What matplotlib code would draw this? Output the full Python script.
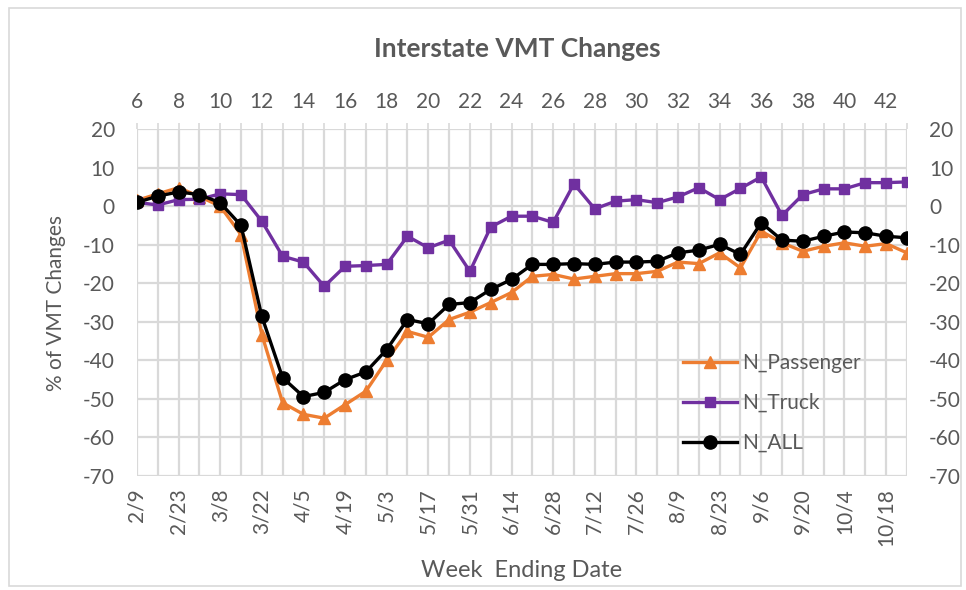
import matplotlib.pyplot as plt
from matplotlib.patches import Rectangle

weeks = list(range(6, 44))
dates = ["2/9", "2/16", "2/23", "3/1", "3/8", "3/15", "3/22", "3/29", "4/5", "4/12",
         "4/19", "4/26", "5/3", "5/10", "5/17", "5/24", "5/31", "6/7", "6/14", "6/21",
         "6/28", "7/5", "7/12", "7/19", "7/26", "8/2", "8/9", "8/16", "8/23", "8/30",
         "9/6", "9/13", "9/20", "9/27", "10/4", "10/11", "10/18", "10/25"]

n_passenger = [1.5, 3.2, 4.8, 2.5, 0.0, -7.4, -33.3, -51.0, -54.0, -55.0,
               -51.5, -48.0, -40.0, -32.5, -34.0, -29.4, -27.5, -25.0, -22.4, -18.2,
               -17.7, -18.9, -18.2, -17.5, -17.5, -16.9, -14.5, -14.9, -12.1, -16.0,
               -6.5, -9.5, -11.7, -10.4, -9.5, -10.4, -9.7, -12.1]
n_truck = [1.0, 0.3, 1.7, 1.8, 3.2, 3.0, -3.9, -13.0, -14.5, -20.8,
           -15.6, -15.4, -15.1, -7.8, -10.8, -8.8, -16.9, -5.4, -2.6, -2.6,
           -4.2, 5.8, -0.7, 1.3, 1.7, 0.9, 2.4, 4.8, 1.7, 4.6,
           7.6, -2.4, 3.0, 4.5, 4.5, 6.1, 6.1, 6.3]
n_all = [1.0, 2.6, 3.7, 3.0, 0.9, -5.0, -28.6, -44.5, -49.4, -48.3,
         -45.0, -43.0, -37.2, -29.4, -30.5, -25.5, -25.0, -21.6, -19.0, -15.1,
         -15.1, -14.9, -15.1, -14.5, -14.5, -14.3, -12.1, -11.4, -9.9, -12.5,
         -4.3, -8.8, -9.1, -7.8, -6.7, -6.9, -7.8, -8.2]

plt.rcParams['font.family'] = ['Lato', 'DejaVu Sans']
plt.rcParams['axes.unicode_minus'] = False
txt = '#595959'
gridc = '#d9d9d9'

fig = plt.figure(figsize=(9.66, 5.9), dpi=100)
# light chart-area border
fig.patches.append(Rectangle((0.009, 0.007), 0.986, 0.98, transform=fig.transFigure,
                             fill=False, edgecolor=gridc, linewidth=1.2))
ax = fig.add_axes([0.1418, 0.1932, 0.797, 0.588])

x = list(range(len(weeks)))
ax.plot(x, n_passenger, color='#ED7D31', lw=2.4, marker='^', ms=9, label='N_Passenger', zorder=3)
ax.plot(x, n_truck, color='#7030A0', lw=2.4, marker='s', ms=7, label='N_Truck', zorder=4)
ax.plot(x, n_all, color='black', lw=2.4, marker='o', ms=9.5, label='N_ALL', zorder=5)

ax.set_xlim(0, len(weeks) - 1)
ax.set_ylim(-70, 20)
ax.set_yticks(range(-70, 21, 10))
ax.set_xticks(x)
ax.set_xticklabels([d if i % 2 == 0 else '' for i, d in enumerate(dates)], rotation=90)
ax.grid(True, color=gridc, lw=1.6)
ax.set_axisbelow(True)
for s in ax.spines.values():
    s.set_visible(False)
ax.tick_params(axis='x', length=0, labelsize=15, colors=txt, pad=9)
ax.tick_params(axis='y', length=0, labelsize=15, colors=txt, pad=16, labelright=True)

# week numbers along the top
top = ax.twiny()
top.set_xlim(weeks[0], weeks[-1])
top.set_xticks(weeks)
top.set_xticklabels([str(w) if w % 2 == 0 else '' for w in weeks])
for s in top.spines.values():
    s.set_visible(False)
top.tick_params(axis='x', length=4.5, color=gridc, width=1.2, labelsize=15, labelcolor=txt, pad=8)

ax.set_ylabel('% of VMT Changes', fontsize=15, color=txt, labelpad=12)
ax.set_xlabel('Week  Ending Date', fontsize=17, color=txt, labelpad=10)
fig.text(0.536, 0.9175, 'Interstate VMT Changes', ha='center', va='center',
         fontsize=19, fontweight='bold', color=txt)

ax.legend(loc='center left', bbox_to_anchor=(0.685, 0.21), frameon=False,
          fontsize=15, labelcolor=txt, handlelength=2.6, handletextpad=0.25,
          labelspacing=0.95)

fig.savefig('out.png', dpi=100)
